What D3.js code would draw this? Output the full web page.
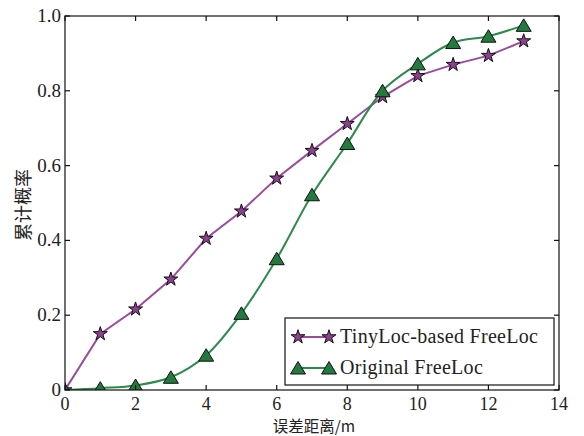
<!DOCTYPE html>
<html>
<head>
<meta charset="utf-8">
<script src="https://cdn.jsdelivr.net/npm/d3@7"></script>
<style>
  body { margin: 0; background: #fff; }
  svg text { font-family: "Liberation Serif", "DejaVu Serif", serif; fill: #222; }
  .cjk { font-family: "Noto Sans CJK SC", sans-serif; }
</style>
</head>
<body>
<svg id="chart" width="584" height="436"></svg>
<script>
// distance (m)
const distances = [0, 1, 2, 3, 4, 5, 6, 7, 8, 9, 10, 11, 12, 13];
// cumulative probability, TinyLoc-based FreeLoc
const tinyLocValues = [0, 0.150, 0.216, 0.296, 0.405, 0.478, 0.566, 0.640, 0.712, 0.784, 0.840, 0.870, 0.894, 0.933];
// cumulative probability, Original FreeLoc
const originalValues = [0, 0.005, 0.012, 0.034, 0.093, 0.205, 0.351, 0.522, 0.659, 0.800, 0.872, 0.929, 0.946, 0.975];
const xTicks = [0, 2, 4, 6, 8, 10, 12, 14];
const yTicks = [0, 0.2, 0.4, 0.6, 0.8, 1.0];
const seriesNames = ["TinyLoc-based FreeLoc", "Original FreeLoc"];

const svg = d3.select("#chart");
const margin = {left: 65, right: 25, top: 16, bottom: 46};
const W = 584, H = 436;
const x = d3.scaleLinear().domain([0, 14]).range([margin.left, W - margin.right]);
const y = d3.scaleLinear().domain([0, 1]).range([H - margin.bottom, margin.top]);

const series = [
    {name: seriesNames[0], values: tinyLocValues, line: "#9b4a9d", fill: "#8e3f90", marker: "star", curve: d3.curveLinear},
    {name: seriesNames[1], values: originalValues, line: "#2b8a4c", fill: "#237a3f", marker: "tri", curve: d3.curveCatmullRom},
];

svg.append("clipPath").attr("id", "plotClip")
    .append("rect")
    .attr("x", x(0)).attr("y", y(1))
    .attr("width", x(14) - x(0)).attr("height", y(0) - y(1));

// marker shapes
const starPath = d3.symbol().type(d3.symbolStar).size(60)();
const triPath = "M0,-6.5L7.5,6L-7.5,6Z";
function drawMarker(g, s) {
    g.append("path")
        .attr("d", s.marker === "star" ? starPath : triPath)
        .attr("fill", s.fill)
        .attr("stroke", "#111")
        .attr("stroke-width", 1);
}

const plot = svg.append("g").attr("clip-path", "url(#plotClip)");

series.forEach(s => {
    const pts = distances.map((d, i) => [d, s.values[i]]);
    plot.append("path")
        .datum(pts)
        .attr("fill", "none")
        .attr("stroke", s.line)
        .attr("stroke-width", 2)
        .attr("d", d3.line().x(d => x(d[0])).y(d => y(d[1])).curve(s.curve));
    plot.selectAll(null)
        .data(pts)
        .join("g")
        .attr("transform", d => `translate(${x(d[0])},${y(d[1])})`)
        .each(function () { drawMarker(d3.select(this), s); });
});

// axes box with inward ticks on all sides
const tickLen = 5;
const axes = svg.append("g").attr("stroke", "#111").attr("stroke-width", 1.2);
axes.append("rect")
    .attr("x", x(0)).attr("y", y(1))
    .attr("width", x(14) - x(0)).attr("height", y(0) - y(1))
    .attr("fill", "none");
xTicks.forEach(t => {
    axes.append("line").attr("x1", x(t)).attr("x2", x(t)).attr("y1", y(0)).attr("y2", y(0) - tickLen);
    axes.append("line").attr("x1", x(t)).attr("x2", x(t)).attr("y1", y(1)).attr("y2", y(1) + tickLen);
});
yTicks.forEach(t => {
    axes.append("line").attr("y1", y(t)).attr("y2", y(t)).attr("x1", x(0)).attr("x2", x(0) + tickLen);
    axes.append("line").attr("x1", x(14)).attr("x2", x(14) - tickLen).attr("y1", y(t)).attr("y2", y(t));
});

svg.selectAll(".xt")
    .data(xTicks)
    .join("text")
    .attr("x", d => x(d))
    .attr("y", y(0) + 20)
    .attr("text-anchor", "middle")
    .attr("font-size", 18)
    .text(d => d);

svg.selectAll(".yt")
    .data(yTicks)
    .join("text")
    .attr("x", x(0) - 4)
    .attr("y", d => y(d) + 6)
    .attr("text-anchor", "end")
    .attr("font-size", 19)
    .text(d => d === 0 ? "0" : d.toFixed(1));

svg.append("text")
    .attr("class", "cjk")
    .attr("x", x(7) + 2)
    .attr("y", 432)
    .attr("text-anchor", "middle")
    .attr("font-size", 15.5)
    .text("误差距离/m");

svg.append("text")
    .attr("class", "cjk")
    .attr("transform", `translate(30,${(y(0) + y(1)) / 2 + 2}) rotate(-90)`)
    .attr("text-anchor", "middle")
    .attr("font-size", 18)
    .text("累计概率");

// legend
const legend = svg.append("g").attr("transform", "translate(285,318)");
legend.append("rect")
    .attr("width", 269).attr("height", 67)
    .attr("fill", "#fff").attr("stroke", "#111").attr("stroke-width", 1.2);
series.forEach((s, i) => {
    const row = legend.append("g").attr("transform", `translate(0,${19 + i * 31})`);
    row.append("line")
        .attr("x1", 13).attr("x2", 44)
        .attr("stroke", s.line).attr("stroke-width", 2);
    [13, 44].forEach(px => {
        drawMarker(row.append("g").attr("transform", `translate(${px},0)`), s);
    });
    row.append("text")
        .attr("x", 55).attr("y", 6)
        .attr("font-size", 20)
        .attr("letter-spacing", 0.3)
        .text(s.name);
});
</script>
</body>
</html>
